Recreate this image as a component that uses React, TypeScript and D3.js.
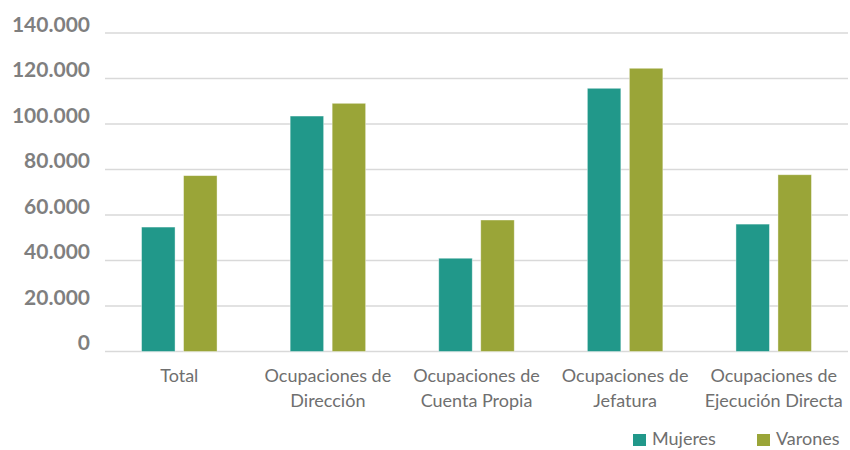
import React from "react";
import * as d3 from "d3";

const categories = [
  ["Total"],
  ["Ocupaciones de", "Dirección"],
  ["Ocupaciones de", "Cuenta Propia"],
  ["Ocupaciones de", "Jefatura"],
  ["Ocupaciones de", "Ejecución Directa"],
];
const seriesNames = ["Mujeres", "Varones"];
const mujeres = [54700, 103500, 41000, 115700, 56000];
const varones = [77300, 109100, 57800, 124500, 77700];
const yTicks = [0, 20000, 40000, 60000, 80000, 100000, 120000, 140000];
const colors = ["#21988A", "#9AA538"];

const W = 850;
const H = 450;
const left = 105;
const right = 848;
const top = 33;
const bottom = 351.5;

export default function App() {
  const keys = categories.map((_, i) => String(i));
  const x = d3.scaleBand<string>().domain(keys).range([left, right]).paddingInner(0).paddingOuter(0);
  const y = d3.scaleLinear().domain([0, 140000]).range([bottom, top]);
  const fmt = (v: number) => d3.format(",")(v).replace(/,/g, ".");
  const barW = 33.5;
  const gap = 8.5;
  const series = [mujeres, varones];
  const font = "Lato, 'Open Sans', sans-serif";

  return (
    <svg width={W} height={H} style={{ position: "absolute", left: 0, top: 0, background: "#fff" }}>
      {yTicks.map((t) => (
        <g key={t}>
          <line x1={left} x2={right} y1={y(t)} y2={y(t)} stroke="#d9d9d9" strokeWidth={1.3} />
          <text x={90} y={y(t) - 1.5} textAnchor="end" fontFamily={font} fontWeight={700} fontSize={21} fill="#7f7f7f">
            {fmt(t)}
          </text>
        </g>
      ))}
      {keys.map((k, i) => {
        const cx = x(k)! + x.bandwidth() / 2;
        return (
          <g key={k}>
            {series.map((s, j) => {
              const bx = j === 0 ? cx - gap / 2 - barW : cx + gap / 2;
              return (
                <rect
                  key={j}
                  x={bx}
                  y={y(s[i])}
                  width={barW}
                  height={y(0) - y(s[i])}
                  fill={colors[j]}
                  stroke="#ffffff"
                  strokeOpacity={0.5}
                  strokeWidth={0.8}
                />
              );
            })}
            <text textAnchor="middle" fontFamily={font} fontSize={18} fill="#6f6f6f">
              {categories[i].map((line, li) => (
                <tspan key={li} x={cx} y={382 + li * 25}>
                  {line}
                </tspan>
              ))}
            </text>
          </g>
        );
      })}
      {seriesNames.map((n, j) => {
        const lx = j === 0 ? 633 : 757;
        return (
          <g key={n}>
            <rect x={lx} y={434} width={13} height={12} fill={colors[j]} />
            <text x={lx + 19} y={445} fontFamily={font} fontSize={18} fill="#6f6f6f">
              {n}
            </text>
          </g>
        );
      })}
    </svg>
  );
}
